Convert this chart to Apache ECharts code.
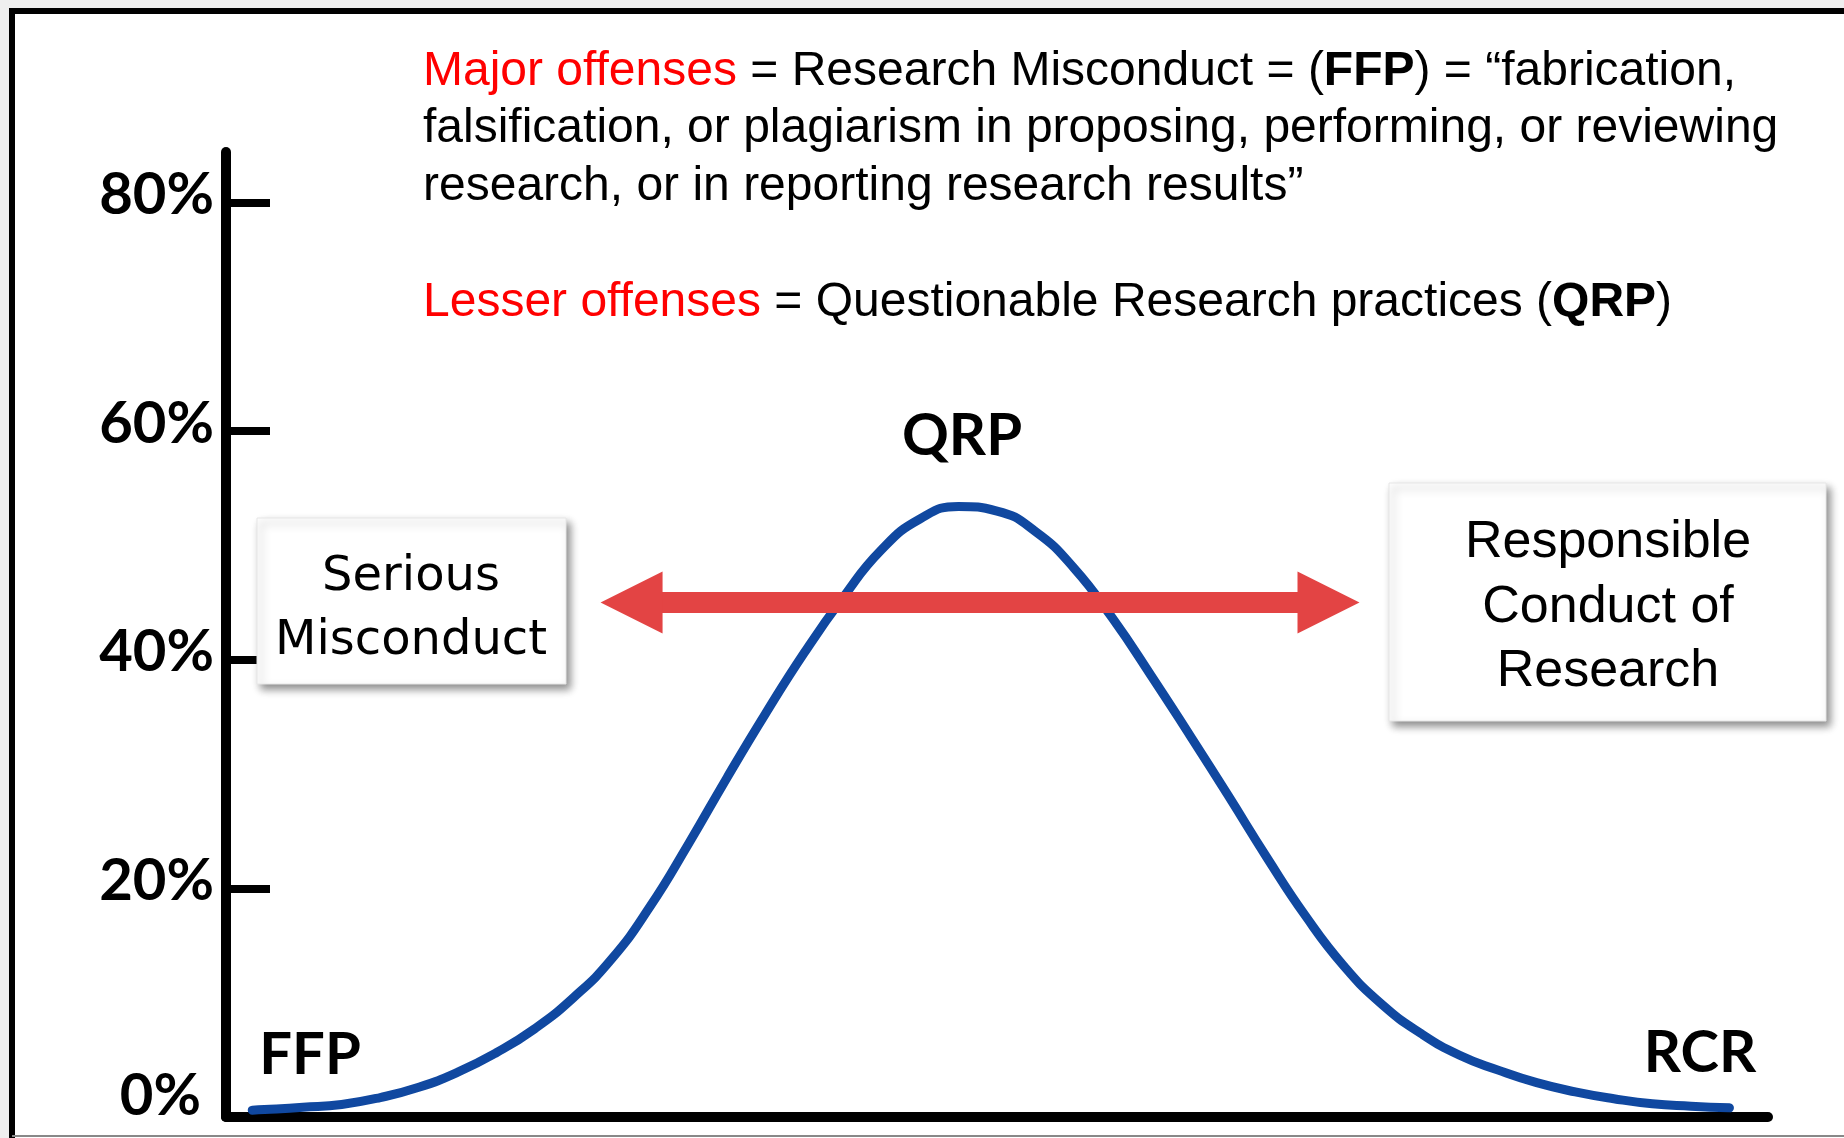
<!DOCTYPE html>
<html>
<head>
<meta charset="utf-8">
<script src="https://cdn.jsdelivr.net/npm/echarts@6/dist/echarts.min.js"></script>
<style>
  html, body { margin: 0; padding: 0; background: #fff; }
  #chart { width: 1844px; height: 1138px; }
</style>
</head>
<body>
<div id="chart"></div>
<script>
// curve: x is position along the axis (0-100), y in %
const curveX = [1.7, 2.5, 5, 7.5, 10, 12.5, 15, 17.5, 20, 22.5, 25, 27.5, 30, 32.5, 35, 37.5, 40, 42.5, 45, 47.5,
  50, 52.5, 55, 57.5, 60, 62.5, 65, 67.5, 70, 72.5, 75, 77.5, 80, 82.5, 85, 87.5, 90, 92.5, 95, 97.5];
const curveY = [0.6, 0.65, 0.85, 1.1, 1.7, 2.6, 3.9, 5.6, 7.7, 10.4, 13.8, 18.4, 23.9, 29.7, 35.3, 40.6, 45.4, 49.6, 52.3, 53.4,
  53.0, 51.2, 48.0, 43.6, 38.6, 33.4, 28.1, 22.7, 17.6, 13.2, 9.8, 7.3, 5.4, 4.1, 3.0, 2.2, 1.6, 1.15, 0.95, 0.8];
const yTicks = [0, 20, 40, 60, 80];
const arrowX = [26.3, 71.5];
const arrowY = 45;

const chart = echarts.init(document.getElementById('chart'));

const comic = { fontFamily: 'Lato', fontWeight: 'bold', fontSize: 58 };
const arial = (size, weight) => ({ fontFamily: 'Liberation Sans, Arial', fontSize: size, fontWeight: weight || 'normal' });
const topRich = {
  r: Object.assign({ fill: '#ff0000' }, arial(48)),
  b: Object.assign({ fill: '#000' }, arial(48, 'bold'))
};

function topLine(text, y) {
  return {
    type: 'text', z: 100,
    style: Object.assign({ text: text, x: 423, y: y, fill: '#000', verticalAlign: 'middle', rich: topRich }, arial(48))
  };
}

function boxText(text, x, y, font) {
  return {
    type: 'text', z: 101,
    style: Object.assign({ text: text, x: x, y: y, fill: '#000', align: 'center', verticalAlign: 'middle' }, font)
  };
}

const boxStyle = {
  fill: '#fff', stroke: '#e6e6e6', lineWidth: 1,
  shadowBlur: 8, shadowColor: 'rgba(0,0,0,0.45)', shadowOffsetX: 4, shadowOffsetY: 5
};
const gothic = { fontFamily: 'DejaVu Sans', fontSize: 48 };

const option = {
  animation: false,
  grid: { left: 226, right: 76, top: 152, bottom: 21 },
  xAxis: {
    type: 'value', min: 0, max: 100,
    axisLine: { show: true, onZero: false, lineStyle: { color: '#000', width: 10 } },
    axisTick: { show: false },
    axisLabel: { show: false },
    splitLine: { show: false }
  },
  yAxis: {
    type: 'value', min: 0, max: 84.4, interval: 20,
    axisLine: { show: true, lineStyle: { color: '#000', width: 10, cap: 'round' } },
    axisTick: { show: true, inside: true, length: 44, customValues: [20, 40, 60, 80],
      lineStyle: { color: '#000', width: 8 } },
    axisLabel: {
      customValues: yTicks,
      margin: 12,
      color: '#000',
      fontFamily: comic.fontFamily, fontWeight: comic.fontWeight, fontSize: comic.fontSize,
      formatter: v => v === 0 ? '{z|0%}' : '{n|' + v + '%}',
      rich: {
        n: Object.assign({ color: '#000', padding: [0, 0, 14, 0] }, comic),
        z: Object.assign({ color: '#000', padding: [0, 13, 42, 0] }, comic)
      }
    },
    splitLine: { show: false }
  },
  series: [{
    type: 'line',
    data: curveX.map((x, i) => [x, curveY[i]]),
    smooth: 0.5,
    showSymbol: false,
    symbol: 'none',
    lineStyle: { color: '#1048a0', width: 9, cap: 'round' },
    z: 2,
    markLine: {
      silent: true,
      symbol: ['triangle', 'triangle'],
      symbolSize: [62, 62],
      label: { show: false },
      lineStyle: { color: '#e34444', width: 21, type: 'solid' },
      data: [[{ coord: [arrowX[0], arrowY] }, { coord: [arrowX[1], arrowY] }]]
    }
  }],
  graphic: [
    { type: 'rect', z: 90, shape: { x: 0, y: 0, width: 1844, height: 8 }, style: { fill: '#efefef' } },
    { type: 'rect', z: 90, shape: { x: 0, y: 0, width: 9, height: 1138 }, style: { fill: '#efefef' } },
    { type: 'polyline', z: 91, shape: { points: [[12, 1138], [12, 11], [1844, 11]] },
      style: { stroke: '#000', lineWidth: 6, fill: null } },
    { type: 'line', z: 91, shape: { x1: 12, y1: 1136, x2: 1844, y2: 1136 }, style: { stroke: '#888', lineWidth: 2 } },

    topLine('{r|Major offenses} = Research Misconduct = ({b|FFP}) = “fabrication,', 72),
    topLine('falsification, or plagiarism in proposing, performing, or reviewing', 129),
    topLine('research, or in reporting research results”', 187),
    topLine('{r|Lesser offenses} = Questionable Research practices ({b|QRP})', 303),

    boxText('QRP', 962, 436, comic),
    boxText('FFP', 310, 1055, comic),
    boxText('RCR', 1700, 1053, comic),

    { type: 'rect', z: 100, shape: { x: 257, y: 518, width: 309, height: 166 }, style: boxStyle },
    boxText('Serious', 411, 578, gothic),
    boxText('Misconduct', 411, 642, gothic),

    { type: 'rect', z: 100, shape: { x: 1389, y: 483, width: 437, height: 238 }, style: boxStyle },
    boxText('Responsible', 1608, 543, arial(52)),
    boxText('Conduct of', 1608, 608, arial(52)),
    boxText('Research', 1608, 672, arial(52))
  ]
};

chart.setOption(option);
</script>
</body>
</html>
